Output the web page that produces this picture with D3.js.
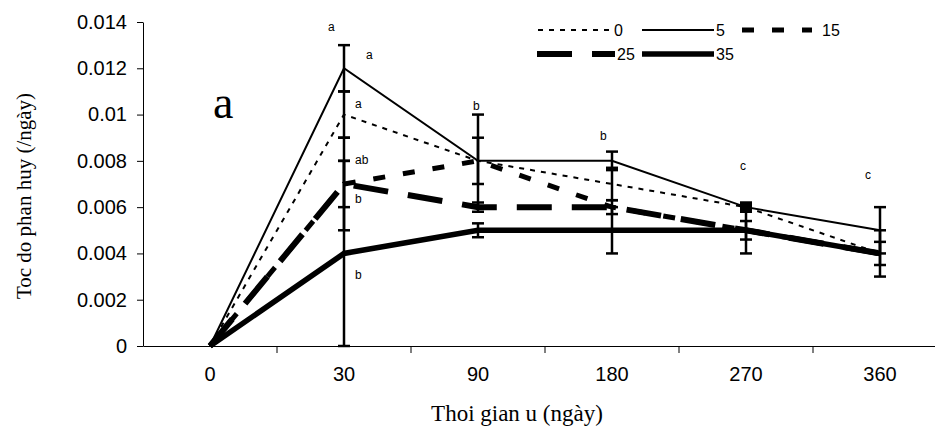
<!DOCTYPE html>
<html>
<head>
<meta charset="utf-8">
<script src="https://cdn.jsdelivr.net/npm/d3@7"></script>
<style>
  body { margin: 0; background: #fff; }
  svg { display: block; }
</style>
</head>
<body>
<svg id="chart"></svg>
<script>
// categories (days) and series (temperature groups)
var days = ["0", "30", "90", "180", "270", "360"];
var seriesNames = ["0", "5", "15", "25", "35"];

var s0 = [0, 0.010, 0.008, 0.007, 0.006, 0.004];
var s5 = [0, 0.012, 0.008, 0.008, 0.006, 0.005];
var s15 = [0, 0.007, 0.008, 0.006, 0.005, 0.004];
var s25 = [0, 0.007, 0.006, 0.006, 0.005, 0.004];
var s35 = [0, 0.004, 0.005, 0.005, 0.005, 0.004];

var e0 = [0, 0.001, 0.001, 0.0007, 0.0002, 0];
var e5 = [0, 0.001, 0.002, 0.0004, 0, 0.001];
var e15 = [0, 0.001, 0, 0, 0, 0];
var e25 = [0, 0.002, 0.0002, 0.0003, 0.0004, 0.0005];
var e35 = [0, 0.004, 0.0003, 0.001, 0.001, 0.001];

var yTicks = [0, 0.002, 0.004, 0.006, 0.008, 0.01, 0.012, 0.014];

// significance letters: [day, value, dx, text]
var letters = [
    ["30", 0.0136, -16, "a"],
    ["30", 0.0124, 22, "a"],
    ["30", 0.0103, 11, "a"],
    ["30", 0.00785, 11, "ab"],
    ["30", 0.0062, 11, "b"],
    ["30", 0.0029, 11, "b"],
    ["90", 0.0102, -5, "b"],
    ["180", 0.0089, -12, "b"],
    ["270", 0.0076, -6, "c"],
    ["360", 0.0072, -15, "c"]
];

// square marker seen on the chart
var markerPoints = [["0", "270"]];

var values = { "0": s0, "5": s5, "15": s15, "25": s25, "35": s35 };
var errors = { "0": e0, "5": e5, "15": e15, "25": e25, "35": e35 };
var styles = {
    "0":  { w: 2,   dash: "5,6" },
    "5":  { w: 2,   dash: null },
    "15": { w: 5,   dash: "12,18" },
    "25": { w: 6,   dash: "35,20" },
    "35": { w: 5.5, dash: null }
};

var W = 935, H = 428;
var margin = { top: 22, left: 143 },
    plotH = 324;

var svg = d3.select("#chart").attr("width", W).attr("height", H);

var x = d3.scaleBand().domain(days).range([margin.left, margin.left + 804]).padding(0);
var y = d3.scaleLinear().domain([0, 0.014]).range([margin.top + plotH, margin.top]);
var cx = function (d) { return x(d) + x.bandwidth() / 2; };

// y axis
var yAxis = svg.append("g")
    .attr("transform", "translate(" + margin.left + ",0)")
    .call(d3.axisLeft(y).tickValues(yTicks).tickSize(6).tickSizeOuter(0).tickPadding(10)
        .tickFormat(function (d) { return d === 0 ? "0" : String(+d.toFixed(3)); }));
yAxis.selectAll("text").attr("font-family", "Liberation Sans, Arial, sans-serif").attr("font-size", 20).attr("fill", "#000");
yAxis.selectAll("line, path").attr("stroke", "#000").attr("stroke-width", 1);

// x axis: labels centred, ticks between categories
var xAxis = svg.append("g")
    .attr("transform", "translate(0," + y(0) + ")")
    .call(d3.axisBottom(x).tickSize(0).tickSizeOuter(0).tickPadding(21));
xAxis.select("path").attr("stroke", "#000").attr("stroke-width", 1);
xAxis.selectAll("text").attr("font-family", "Liberation Sans, Arial, sans-serif").attr("font-size", 20).attr("fill", "#000");
xAxis.selectAll(".sep").data(days.slice(1)).enter().append("line")
    .attr("x1", function (d) { return x(d); }).attr("x2", function (d) { return x(d); })
    .attr("y1", 0).attr("y2", 7).attr("stroke", "#000");

// lines
var line = d3.line()
    .x(function (d) { return cx(d.day); })
    .y(function (d) { return y(d.v); });

seriesNames.forEach(function (name) {
    var pts = days.map(function (d, i) { return { day: d, v: values[name][i] }; });
    svg.append("path")
        .datum(pts)
        .attr("fill", "none")
        .attr("stroke", "#000")
        .attr("stroke-width", styles[name].w)
        .attr("stroke-dasharray", styles[name].dash)
        .attr("d", line);
});

// error bars
seriesNames.forEach(function (name) {
    days.forEach(function (d, i) {
        var e = errors[name][i];
        if (!e) return;
        var v = values[name][i];
        var g = svg.append("g").attr("stroke", "#000").attr("stroke-width", 2.5);
        g.append("line").attr("x1", cx(d)).attr("x2", cx(d)).attr("y1", y(v - e)).attr("y2", y(v + e));
        [v - e, v + e].forEach(function (t) {
            g.append("line").attr("x1", cx(d) - 6).attr("x2", cx(d) + 6).attr("y1", y(t)).attr("y2", y(t));
        });
    });
});

// marker
markerPoints.forEach(function (m) {
    var i = days.indexOf(m[1]);
    svg.append("rect")
        .attr("x", cx(m[1]) - 6).attr("y", y(values[m[0]][i]) - 5)
        .attr("width", 12).attr("height", 10).attr("fill", "#000");
});

// letters
svg.selectAll(".lt").data(letters).enter().append("text")
    .attr("x", function (d) { return cx(d[0]) + d[2]; })
    .attr("y", function (d) { return y(d[1]); })
    .attr("font-family", "Liberation Sans, Arial, sans-serif")
    .attr("font-size", 12)
    .attr("fill", "#000")
    .text(function (d) { return d[3]; });

// panel letter
svg.append("text").attr("x", 213).attr("y", 118)
    .attr("font-family", "Liberation Serif, Times New Roman, serif").attr("font-size", 46)
    .attr("fill", "#000")
    .text("a");

// axis titles
svg.append("text")
    .attr("transform", "translate(31," + (margin.top + 174) + ") rotate(-90)")
    .attr("text-anchor", "middle")
    .attr("font-family", "Liberation Serif, Times New Roman, serif").attr("font-size", 21)
    .attr("fill", "#000")
    .text("Toc do phan huy (/ngày)");
svg.append("text")
    .attr("x", 517).attr("y", 421)
    .attr("text-anchor", "middle")
    .attr("font-family", "Liberation Serif, Times New Roman, serif").attr("font-size", 23)
    .attr("fill", "#000")
    .text("Thoi gian u (ngày)");

// legend
var legendPos = {
    "0": [538, 612, 30], "5": [642, 714, 30], "15": [742, 812, 30],
    "25": [537, 615, 54], "35": [642, 714, 54]
};
seriesNames.forEach(function (name) {
    var p = legendPos[name];
    svg.append("line")
        .attr("x1", p[0]).attr("x2", p[1]).attr("y1", p[2]).attr("y2", p[2])
        .attr("stroke", "#000").attr("stroke-width", styles[name].w)
        .attr("stroke-dasharray", styles[name].dash);
    svg.append("text")
        .attr("x", p[1] + (name === "15" ? 10 : 2)).attr("y", p[2] + 6)
        .attr("font-family", "Liberation Sans, Arial, sans-serif").attr("font-size", 16)
        .attr("fill", "#000")
        .text(name);
});
</script>
</body>
</html>
